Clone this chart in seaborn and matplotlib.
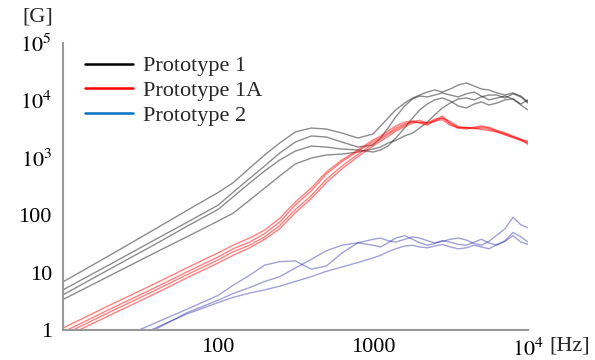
import pandas as pd
import matplotlib
matplotlib.use('Agg')
import matplotlib.pyplot as plt
from matplotlib.lines import Line2D
from matplotlib.ticker import LogLocator, NullFormatter
import seaborn as sns

# frequency grid [Hz]
freq = [10, 20, 40, 63, 100, 125, 160, 200, 250, 315, 400, 500, 630, 800,
        1000, 1120, 1250, 1400, 1600, 1800, 2000, 2240, 2500, 2800, 3150,
        3550, 4000, 4500, 5000, 5600, 6300, 7100, 8000, 9000, 10000]

# Prototype 1 (4 measurements)
proto1_a = [6.9, 20, 59, 121, 248, 367, 661, 1120, 1810, 2820, 3300, 3170, 2700, 2210,
            2600, 3580, 4930, 6800, 9000, 11000, 12400, 14000, 15200, 14000, 15800,
            18500, 20100, 17800, 15800, 15200, 13500, 12400, 13500, 11900, 9400]
proto1_b = [5.0, 13.8, 38.5, 75, 149, 250, 438, 720, 1210, 1880, 2400, 2300, 1880, 1540,
            1670, 2200, 3300, 5140, 7980, 10600, 11900, 11500, 12400, 13500, 12400,
            11500, 13000, 14000, 11900, 10200, 11000, 11900, 10600, 8300, 6800]
proto1_c = [4.1, 11.5, 32, 64, 126, 208, 364, 590, 915, 1310, 1600, 1540, 1420, 1370,
            1260, 1370, 1600, 2200, 3300, 4930, 6800, 8650, 10200, 11000, 9770,
            7980, 7380, 8650, 9400, 8300, 9000, 10200, 10600, 8650, 10200]
proto1_d = [3.4, 8.8, 22.8, 42, 79, 108, 183, 296, 482, 780, 990, 1120, 1160, 1260,
            1420, 1540, 1810, 2010, 2400, 2700, 3300, 4200, 5570, 7380, 9000,
            10600, 11000, 10200, 11500, 12400, 12400, 11000, 13000, 11500, 9000]

# Prototype 1A (4 measurements)
proto1a_a = [1.08, 2.7, 6.6, 12.1, 22, 30, 40, 55, 88, 170, 298, 566, 915, 1370,
             2040, 2400, 2930, 3580, 4200, 4370, 4050, 3700, 4500, 5350, 3900,
             3300, 3170, 3430, 3580, 3300, 2930, 2600, 2300, 2040, 1880]
proto1a_b = [0.92, 2.3, 5.6, 10.3, 18.7, 26, 34, 48, 76, 150, 265, 520, 860, 1300,
             1900, 2250, 2700, 3300, 3900, 4200, 4100, 3900, 4300, 5000, 4300,
             3500, 3300, 3300, 3450, 3400, 3000, 2750, 2400, 2100, 1950]
proto1a_c = [0.82, 2.05, 5.0, 9.2, 16.6, 23, 30, 42, 66, 125, 220, 420, 720, 1150,
             1750, 2100, 2550, 3100, 3700, 4300, 4500, 4000, 4700, 4900, 4000,
             3400, 3350, 3200, 3300, 3150, 2850, 2500, 2250, 2000, 1800]
proto1a_d = [0.73, 1.8, 4.4, 8.1, 14.7, 20, 27, 38, 58, 110, 195, 370, 640, 1050,
             1600, 1950, 2350, 2900, 3500, 4000, 4200, 4100, 4400, 4600, 3700,
             3300, 3400, 3300, 3100, 3000, 2800, 2600, 2300, 2100, 1700]

# Prototype 2 (3 measurements)
proto2_a = [0.28, 0.6, 1.35, 2.3, 4.0, 6, 9, 13.5, 15.5, 16, 11.5, 13, 22, 33,
            38, 40, 36, 34, 38, 42, 40, 36, 33, 35, 38,
            40, 37, 32, 30, 35, 45, 58, 92, 68, 60]
proto2_b = [0.2, 0.45, 1.05, 2.0, 3.3, 4.3, 5.5, 7, 8.5, 12, 17, 24, 30, 33,
            30, 28, 33, 40, 44, 38, 33, 30, 32, 36, 34,
            31, 30, 34, 38, 33, 30, 36, 50, 42, 34]
proto2_c = [0.22, 0.5, 1.1, 1.9, 3.0, 3.7, 4.4, 5.0, 5.8, 7.0, 8.5, 10.5, 12.5, 15,
            18, 20, 23, 26, 29, 30, 28, 27, 29, 31, 28,
            26, 27, 30, 28, 26, 31, 35, 44, 34, 31]

groups = {
    'Prototype 1': [proto1_a, proto1_b, proto1_c, proto1_d],
    'Prototype 1A': [proto1a_a, proto1a_b, proto1a_c, proto1a_d],
    'Prototype 2': [proto2_a, proto2_b, proto2_c],
}

rows = []
for name, curves in groups.items():
    for i, curve in enumerate(curves):
        for f, v in zip(freq, curve):
            rows.append({'group': name, 'curve': f'{name}-{i}', 'freq': f, 'value': v})
df = pd.DataFrame(rows)

sns.set_style('white')
plt.rcParams['font.family'] = ['Liberation Serif', 'DejaVu Serif']
plt.rcParams['mathtext.fontset'] = 'stix'

fig = plt.figure(figsize=(5.95, 3.6), dpi=100)
ax = fig.add_axes([63 / 595, 30 / 360, 465 / 595, 287 / 360])
ax.set_xscale('log')
ax.set_yscale('log')

line_styles = {
    'Prototype 1': ('black', 0.45),
    'Prototype 1A': ('red', 0.5),
    'Prototype 2': ('#2020a0', 0.42),
}
for name, (color, alpha) in line_styles.items():
    sns.lineplot(data=df[df['group'] == name], x='freq', y='value', units='curve',
                 estimator=None, color=color, alpha=alpha, lw=1.0, ax=ax, legend=False)

ax.set_xlim(10, 1e4)
ax.set_ylim(1, 1e5)
ax.set_xlabel('')
ax.set_ylabel('')

ax.set_xticks([100, 1000, 10000])
ax.set_xticklabels(['100', '1000', '$10^4$'])
ax.set_yticks([1, 10, 100, 1000, 1e4, 1e5])
ax.set_yticklabels(['1', '10', '100', '$10^3$', '$10^4$', '$10^5$'])
for axis in (ax.xaxis, ax.yaxis):
    axis.set_minor_locator(LogLocator(base=10, subs=range(2, 10), numticks=20))
    axis.set_minor_formatter(NullFormatter())

ax.tick_params(which='both', direction='in', color='#999999', labelcolor='black', labelsize=16)
ax.tick_params(which='major', length=4, width=1)
ax.tick_params(which='minor', length=2.5, width=0.8)
ax.tick_params(axis='x', pad=6)
ax.tick_params(axis='y', pad=8)

sns.despine(ax=ax)
for side in ('left', 'bottom'):
    ax.spines[side].set_color('#999999')
    ax.spines[side].set_linewidth(1.5)

fig.text(38 / 595, 1 - 17 / 360, '[G]', fontsize=16, ha='center', va='center')
fig.text(549 / 595, 1 - 346 / 360, '[Hz]', fontsize=16, ha='left', va='center')

handles = [Line2D([], [], color='black', lw=1.8),
           Line2D([], [], color='red', lw=1.8),
           Line2D([], [], color='#0070c0', lw=1.8)]
ax.legend(handles, list(groups.keys()), loc='upper left', bbox_to_anchor=(0.047, 0.955),
          frameon=False, fontsize=16, handlelength=2.15, handletextpad=0.45,
          labelspacing=0.19, borderaxespad=0, borderpad=0)

fig.savefig('out.png', dpi=100)
